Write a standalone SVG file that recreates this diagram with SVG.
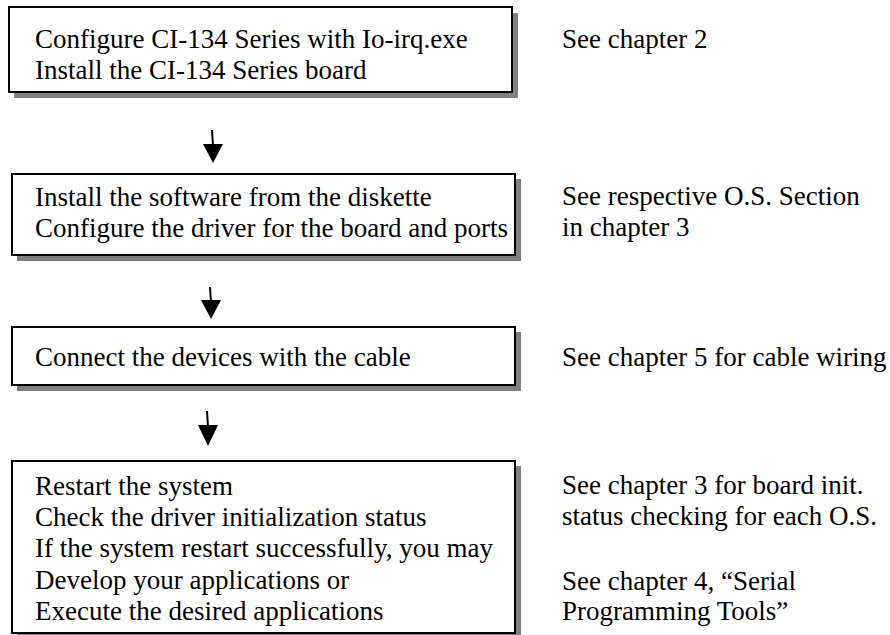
<svg xmlns="http://www.w3.org/2000/svg" width="890" height="635" viewBox="0 0 890 635">
<style>
.box{fill:#fff;stroke:#000;stroke-width:2}
.sh{fill:#808080}
text{font-family:"Liberation Serif","Times New Roman",serif;font-size:27px;fill:#000}
.ln{stroke:#000;stroke-width:2}
.hd{fill:#000}
</style>
<rect width="890" height="635" fill="#fff"/>
<g id="step1">
<rect class="sh" x="14" y="13" width="504" height="85"/>
<rect class="box" x="9" y="7" width="503" height="85"/>
<text x="35" y="48">Configure CI-134 Series with Io-irq.exe</text>
<text x="35" y="79">Install the CI-134 Series board</text>
</g>
<g id="note1"><text x="562" y="48">See chapter 2</text></g>
<g id="step2">
<rect class="sh" x="17" y="179" width="504" height="82"/>
<rect class="box" x="12" y="174" width="503" height="81"/>
<text x="35" y="206">Install the software from the diskette</text>
<text x="35" y="237">Configure the driver for the board and ports</text>
</g>
<g id="note2">
<text x="562" y="205">See respective O.S. Section</text>
<text x="562" y="236">in chapter 3</text>
</g>
<g id="step3">
<rect class="sh" x="17" y="332" width="504" height="59"/>
<rect class="box" x="12" y="327" width="503" height="58"/>
<text x="35" y="366">Connect the devices with the cable</text>
</g>
<g id="note3"><text x="562" y="366">See chapter 5 for cable wiring</text></g>
<g id="step4">
<rect class="sh" x="17" y="466" width="504" height="174"/>
<rect class="box" x="12" y="461" width="503" height="172"/>
<text x="35" y="495">Restart the system</text>
<text x="35" y="526">Check the driver initialization status</text>
<text x="35" y="557">If the system restart successfully, you may</text>
<text x="35" y="589">Develop your applications or</text>
<text x="35" y="620">Execute the desired applications</text>
</g>
<g id="note4">
<text x="562" y="494">See chapter 3 for board init.</text>
<text x="562" y="525">status checking for each O.S.</text>
<text x="562" y="590">See chapter 4, “Serial</text>
<text x="562" y="620">Programming Tools”</text>
</g>
<g id="connectors">
<line class="ln" x1="212" y1="130" x2="213" y2="146"/>
<polygon class="hd" points="203,144 223,144 213,163"/>
<line class="ln" x1="210" y1="287" x2="211" y2="302"/>
<polygon class="hd" points="201,300 221,300 211,319"/>
<line class="ln" x1="207" y1="411" x2="208" y2="427"/>
<polygon class="hd" points="198,425 218,425 208,446"/>
</g>
</svg>
